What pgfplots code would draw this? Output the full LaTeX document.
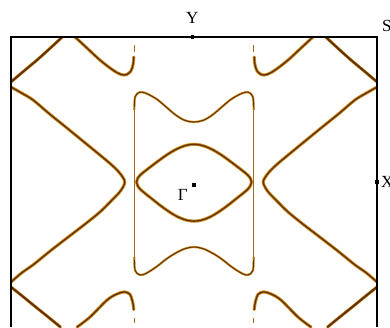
\documentclass[border=0pt]{standalone}
\usepackage{fontspec}
\setmainfont{Liberation Serif}
\usepackage{pgfplots}
\pgfplotsset{compat=1.18}

\definecolor{fsgold}{RGB}{204,140,28}
\definecolor{fsbrown}{RGB}{96,48,12}
\definecolor{fsside}{RGB}{170,104,30}

\begin{document}
\begin{tikzpicture}[x=1pt,y=1pt]
\begin{axis}[
  at={(11pt,0pt)}, anchor=south west,
  width=366pt, height=290pt, scale only axis,
  xmin=-1, xmax=1, ymin=-1, ymax=1,
  hide axis,
  fs/.style={draw=fsbrown, line width=1.3pt,
    preaction={draw=fsgold, line width=3.1pt},
    smooth, tension=0.55, line cap=round, line join=round},
  fsthin/.style={draw=fsbrown, line width=0.9pt,
    preaction={draw=fsgold, line width=2.2pt},
    smooth, tension=0.55, line cap=round, line join=round},
  fsside/.style={draw=fsside, line width=1.2pt},
]
% inner pocket around Gamma
\addplot[fs] coordinates {
 (0.314,0.000) (0.308,0.025) (0.292,0.050) (0.265,0.078) (0.230,0.112)
 (0.190,0.150) (0.150,0.186) (0.110,0.217) (0.070,0.241) (0.035,0.255)
 (0.000,0.260)
 (-0.035,0.255) (-0.070,0.241) (-0.110,0.217) (-0.150,0.186) (-0.190,0.150)
 (-0.230,0.112) (-0.265,0.078) (-0.292,0.050) (-0.308,0.025) (-0.314,0.000)
 (-0.308,-0.026) (-0.292,-0.052) (-0.265,-0.081) (-0.230,-0.116) (-0.190,-0.156)
 (-0.150,-0.193) (-0.110,-0.226) (-0.070,-0.251) (-0.035,-0.265) (0.000,-0.270)
 (0.035,-0.265) (0.070,-0.251) (0.110,-0.226) (0.150,-0.193) (0.190,-0.156)
 (0.230,-0.116) (0.265,-0.081) (0.292,-0.052) (0.308,-0.026) (0.314,0.000)
};
% bow-tie sheet: upper and lower arcs
\addplot[fsthin] coordinates {
 (-0.326,0.500) (-0.325,0.555) (-0.321,0.590) (-0.310,0.610) (-0.295,0.620)
 (-0.278,0.618) (-0.250,0.605) (-0.200,0.568) (-0.150,0.515) (-0.100,0.462)
 (-0.050,0.425) (0.000,0.414) (0.050,0.425) (0.100,0.462) (0.150,0.515)
 (0.200,0.568) (0.250,0.605) (0.278,0.618) (0.295,0.620) (0.310,0.610)
 (0.321,0.590) (0.325,0.555) (0.326,0.500)
};
\addplot[fsthin] coordinates {
 (-0.326,-0.520) (-0.325,-0.580) (-0.321,-0.612) (-0.310,-0.632) (-0.295,-0.641)
 (-0.278,-0.639) (-0.250,-0.622) (-0.200,-0.580) (-0.150,-0.530) (-0.100,-0.490)
 (-0.050,-0.460) (0.000,-0.448) (0.050,-0.460) (0.100,-0.490) (0.150,-0.530)
 (0.200,-0.580) (0.250,-0.622) (0.278,-0.639) (0.295,-0.641) (0.310,-0.632)
 (0.321,-0.612) (0.325,-0.580) (0.326,-0.520)
};
% bow-tie sheet: straight sides
\addplot[fsside] coordinates {(-0.326,0.52) (-0.326,-0.54)};
\addplot[fsside] coordinates {(0.326,0.52) (0.326,-0.54)};
% open sheets crossing near X
\addplot[fs] coordinates {
 (-1.000,0.655) (-0.940,0.612) (-0.880,0.566) (-0.790,0.470) (-0.694,0.372)
 (-0.600,0.275) (-0.514,0.186) (-0.450,0.118) (-0.410,0.068) (-0.388,0.030)
 (-0.378,0.000) (-0.388,-0.035) (-0.410,-0.075) (-0.450,-0.127) (-0.514,-0.207)
 (-0.600,-0.295) (-0.694,-0.386) (-0.790,-0.480) (-0.880,-0.572) (-0.940,-0.625)
 (-1.000,-0.690)
};
\addplot[fs] coordinates {
 (1.000,0.655) (0.940,0.612) (0.880,0.566) (0.790,0.470) (0.694,0.372)
 (0.600,0.275) (0.514,0.186) (0.450,0.118) (0.410,0.068) (0.388,0.030)
 (0.378,0.000) (0.388,-0.035) (0.410,-0.075) (0.450,-0.127) (0.514,-0.207)
 (0.600,-0.295) (0.694,-0.386) (0.790,-0.480) (0.880,-0.572) (0.940,-0.625)
 (1.000,-0.690)
};
% corner pieces around S
\addplot[fs, line width=1.9pt] coordinates {(-1.000,0.690) (-0.930,0.765) (-0.858,0.841) (-0.790,0.918) (-0.720,1.000)};
\addplot[fs, line width=1.9pt] coordinates {(1.000,0.690) (0.930,0.765) (0.858,0.841) (0.790,0.918) (0.720,1.000)};
\addplot[fs, line width=1.9pt] coordinates {(-1.000,-0.724) (-0.930,-0.795) (-0.865,-0.862) (-0.797,-0.931) (-0.730,-1.000)};
\addplot[fs, line width=1.9pt] coordinates {(1.000,-0.724) (0.930,-0.795) (0.865,-0.862) (0.797,-0.931) (0.730,-1.000)};
% pockets near Y
\addplot[fs] coordinates {
 (-0.650,1.000) (-0.585,0.924) (-0.514,0.841) (-0.443,0.772) (-0.400,0.742)
 (-0.370,0.740) (-0.345,0.765) (-0.333,0.810) (-0.329,0.862)
};
\addplot[fs] coordinates {
 (0.650,1.000) (0.585,0.924) (0.514,0.841) (0.443,0.772) (0.400,0.742)
 (0.370,0.740) (0.345,0.765) (0.333,0.810) (0.329,0.862)
};
\addplot[fs] coordinates {
 (-0.639,-1.000) (-0.568,-0.931) (-0.475,-0.814) (-0.420,-0.772) (-0.380,-0.758)
 (-0.350,-0.775) (-0.335,-0.830) (-0.329,-0.880)
};
\addplot[fs] coordinates {
 (0.639,-1.000) (0.568,-0.931) (0.475,-0.814) (0.420,-0.772) (0.380,-0.758)
 (0.350,-0.775) (0.335,-0.830) (0.329,-0.880)
};
% faint fragments of the sheet sides
\addplot[fsside] coordinates {(-0.323,0.897) (-0.323,0.945)};
\addplot[fsside] coordinates {(0.323,0.897) (0.323,0.945)};
\addplot[fsside] coordinates {(-0.323,-0.938) (-0.323,-0.975)};
\addplot[fsside] coordinates {(0.323,-0.938) (0.323,-0.975)};
% high-symmetry points
\addplot[only marks, mark=square*, mark size=1.4pt, black] coordinates {(-0.01,1) (1,0) (0,-0.02)};
\coordinate (sw) at (rel axis cs:0,0);
\coordinate (nw) at (rel axis cs:0,1);
\coordinate (ne) at (rel axis cs:1,1);
\coordinate (se) at (rel axis cs:1,0);
\coordinate (Ypt) at (axis cs:-0.01,1);
\coordinate (Xpt) at (axis cs:1,0);
\coordinate (Gpt) at (axis cs:0,0);
\end{axis}
\draw[line width=1.6pt, line join=miter] (sw) -- (nw) -- (ne) -- (se);
\node[anchor=base, inner sep=0pt, font=\fontsize{17}{19}\selectfont] at ([yshift=13pt]Ypt) {Y};
\node[anchor=base west, inner sep=0pt, font=\fontsize{17}{19}\selectfont] at ([xshift=5pt,yshift=5pt]ne) {S};
\node[anchor=west, inner sep=0pt, font=\fontsize{17}{19}\selectfont] at ([xshift=4pt]Xpt) {X};
\node[anchor=base east, inner sep=0pt, font=\fontsize{17}{19}\selectfont] at ([xshift=-6pt,yshift=-18pt]Gpt) {Γ};
\pgfresetboundingbox
\useasboundingbox ([xshift=-11pt]sw) rectangle ([xshift=13pt,yshift=327pt]se);
\end{tikzpicture}
\end{document}
